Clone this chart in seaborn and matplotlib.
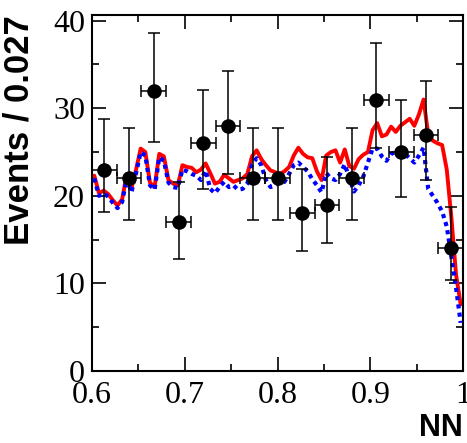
import numpy as np
import pandas as pd
import matplotlib
matplotlib.use("Agg")
import matplotlib.pyplot as plt
import seaborn as sns
from matplotlib.ticker import MultipleLocator

# data points (bins of 0.027)
data_x = [0.6133, 0.6400, 0.6667, 0.6933, 0.7200, 0.7467, 0.7733, 0.8000,
          0.8267, 0.8533, 0.8800, 0.9067, 0.9333, 0.9600, 0.9867]
data_y = [23, 22, 32, 17, 26, 28, 22, 22, 18, 19, 22, 31, 25, 27, 14]
data_hi = [28.8, 27.7, 38.6, 21.6, 32.1, 34.2, 27.7, 27.7, 23.1, 24.4, 27.7, 37.4, 31.0, 33.1, 18.7]
data_lo = [18.2, 17.2, 26.2, 12.8, 20.8, 22.5, 17.2, 17.2, 13.7, 14.6, 17.2, 25.5, 19.9, 21.8, 10.4]

# fine-binned curves (bin centres 0.6025 ... 0.9975)
mc_x = [0.6025 + 0.005 * i for i in range(80)]
red_y = [22.3, 20.3, 20.6, 20.2, 19.5, 18.9, 19.6, 22.5, 20.8, 23.0,
         25.4, 25.0, 21.5, 21.0, 24.8, 24.5, 21.8, 21.4, 21.2, 23.5,
         23.3, 23.2, 22.7, 23.0, 23.7, 22.6, 21.4, 21.6, 22.4, 22.0,
         21.6, 21.8, 22.0, 22.5, 24.5, 25.2, 24.2, 23.5, 22.9, 22.7,
         22.5, 22.8, 23.3, 24.6, 25.5, 24.8, 24.4, 24.3, 22.8, 21.8,
         24.6, 25.0, 25.2, 23.8, 25.3, 23.4, 23.1, 24.2, 24.7, 25.0,
         27.5, 28.3, 26.8, 27.0, 27.9, 27.3, 28.0, 28.4, 28.8, 28.0,
         29.3, 31.0, 27.0, 26.3, 26.0, 25.8, 23.0, 17.5, 11.0, 7.6]
blue_y = [22.0, 20.0, 20.3, 19.9, 19.2, 18.6, 19.3, 22.0, 20.4, 22.6,
          25.0, 24.6, 21.2, 20.7, 24.4, 24.0, 21.5, 21.0, 20.9, 23.0,
          22.8, 22.5, 22.3, 21.8, 22.9, 20.8, 20.3, 21.0, 21.6, 21.0,
          21.2, 20.7, 20.8, 21.4, 23.6, 24.3, 23.5, 21.8, 21.0, 21.2,
          21.5, 21.6, 22.5, 23.5, 23.8, 23.3, 22.8, 21.9, 21.2, 20.4,
          22.6, 22.0, 21.8, 22.5, 23.6, 22.0, 20.5, 21.2, 22.2, 23.8,
          25.4, 25.4, 24.5, 24.0, 24.8, 25.0, 25.0, 24.8, 24.3, 23.8,
          24.6, 25.5, 20.8, 20.0, 19.2, 18.2, 16.5, 13.0, 9.5, 5.5]

sns.set_style("ticks", {"axes.edgecolor": "black", "text.color": "black",
                        "xtick.color": "black", "ytick.color": "black",
                        "axes.labelcolor": "black"})

fig = plt.figure(figsize=(4.67, 4.43), dpi=100)
ax = fig.add_axes([92 / 467, 1 - 371 / 443, 371 / 467, 356 / 443])

mc = pd.DataFrame({"x": mc_x, "red": red_y, "blue": blue_y})
sns.lineplot(data=mc, x="x", y="red", ax=ax, color="#ff0000", lw=2.8, zorder=2)
sns.lineplot(data=mc, x="x", y="blue", ax=ax, color="#0000ff", lw=3.0,
             linestyle=(0, (1, 1)), zorder=3)

dy = np.array(data_y)
yerr = [dy - np.array(data_lo), np.array(data_hi) - dy]
ax.errorbar(data_x, data_y, xerr=0.4 / 30, yerr=yerr, fmt="none",
            ecolor="black", elinewidth=1.1, capsize=4, capthick=1.1, zorder=4)
sns.scatterplot(x=data_x, y=data_y, ax=ax, color="black", s=110,
                edgecolor="black", linewidth=0, zorder=5)

ax.set_xlim(0.6, 1.0)
ax.set_ylim(0, 40.65)
ax.xaxis.set_minor_locator(MultipleLocator(0.05))
ax.yaxis.set_major_locator(MultipleLocator(10))
ax.yaxis.set_minor_locator(MultipleLocator(5))
ax.set_xticks([0.6, 0.7, 0.8, 0.9, 1.0])
ax.set_xticklabels(["0.6", "0.7", "0.8", "0.9", "1"])

ax.tick_params(which="both", direction="in", top=True, right=True, width=1.2)
ax.tick_params(which="major", length=10)
ax.tick_params(which="minor", length=5)
ax.tick_params(axis="x", which="major", pad=7)
ax.tick_params(axis="y", which="major", pad=5)
for lab in ax.get_xticklabels() + ax.get_yticklabels():
    lab.set_fontfamily("Liberation Serif")
    lab.set_fontsize(23)
for sp in ax.spines.values():
    sp.set_linewidth(1.5)

ax.set_ylabel("Events / 0.027", fontfamily="Liberation Sans", fontweight="bold",
              fontsize=25, loc="top")
ax.yaxis.set_label_coords(-0.151, 1.0)
ax.set_xlabel("NN", fontfamily="Liberation Sans", fontweight="bold",
              fontsize=22, loc="right")
ax.xaxis.set_label_coords(1.0, -0.119)

fig.savefig("out.png", dpi=100)
